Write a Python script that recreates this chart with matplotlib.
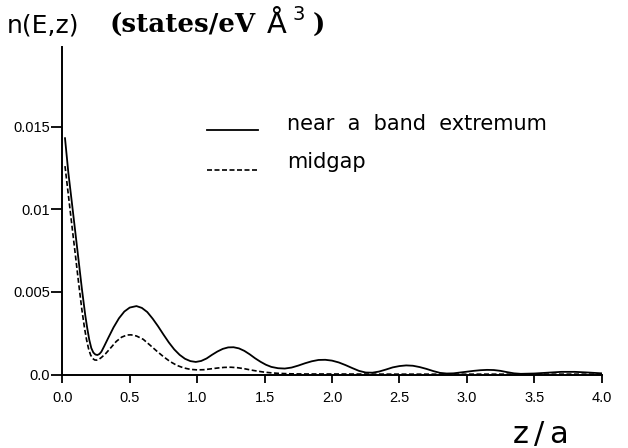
"""
Local density of states n(E,z) versus depth z/a,
near a band extremum and at midgap.
"""
import matplotlib
matplotlib.use('Agg')  # Use non-interactive backend
import matplotlib.pyplot as plt
from matplotlib.lines import Line2D

# Depth z/a and density of states near a band extremum (solid line)
z_band = [0.02, 0.045, 0.07, 0.095, 0.12, 0.145, 0.17, 0.185, 0.2, 0.215,
          0.23, 0.245, 0.26, 0.275, 0.29, 0.31, 0.34, 0.38, 0.42, 0.46,
          0.5, 0.55, 0.59, 0.63, 0.67, 0.71, 0.75, 0.79, 0.83, 0.87,
          0.91, 0.95, 0.99, 1.03, 1.07, 1.11, 1.15, 1.19, 1.23, 1.27,
          1.31, 1.35, 1.39, 1.43, 1.47, 1.51, 1.55, 1.6, 1.65, 1.7,
          1.75, 1.8, 1.85, 1.9, 1.95, 2.0, 2.05, 2.1, 2.15, 2.2,
          2.25, 2.3, 2.35, 2.4, 2.45, 2.5, 2.55, 2.6, 2.65, 2.7,
          2.75, 2.8, 2.85, 2.9, 2.95, 3.0, 3.05, 3.1, 3.15, 3.2,
          3.25, 3.3, 3.35, 3.4, 3.5, 3.6, 3.7, 3.8, 3.9, 4.0]
n_band = [0.0143, 0.0122, 0.01047, 0.00872, 0.00696, 0.0052, 0.0036, 0.0028, 0.0021, 0.0016,
          0.00133, 0.00121, 0.00118, 0.00124, 0.00138, 0.0017, 0.0022, 0.00285, 0.0034, 0.00381,
          0.00405, 0.00414, 0.00403, 0.00378, 0.00338, 0.00292, 0.00242, 0.00194, 0.00152, 0.00119,
          0.00095, 0.00081, 0.00076, 0.00082, 0.00097, 0.00119, 0.00139, 0.00155, 0.00164, 0.00165,
          0.00158, 0.00143, 0.00122, 0.00098, 0.00077, 0.00059, 0.00046, 0.00038, 0.00036, 0.00042,
          0.00054, 0.00068, 0.0008, 0.00088, 0.00089, 0.00084, 0.00073, 0.00057, 0.00039, 0.00022,
          0.00012, 0.00011, 0.00018, 0.0003, 0.00043, 0.00051, 0.00055, 0.00053, 0.00045, 0.00034,
          0.00021, 0.0001, 0.00006, 0.00007, 0.00012, 0.00017, 0.00022, 0.00026, 0.00028, 0.00027,
          0.00022, 0.00014, 0.00007, 0.00004, 0.00006, 0.00011, 0.00016, 0.00016, 0.00012, 0.00007]

# Midgap (dashed line)
z_mid = [0.02, 0.045, 0.07, 0.095, 0.12, 0.145, 0.165, 0.18, 0.195, 0.21,
         0.225, 0.24, 0.255, 0.27, 0.29, 0.32, 0.36, 0.4, 0.44, 0.48,
         0.51, 0.55, 0.6, 0.65, 0.7, 0.75, 0.8, 0.85, 0.9, 0.95,
         1.0, 1.05, 1.1, 1.15, 1.2, 1.25, 1.3, 1.35, 1.4, 1.45,
         1.5, 1.55, 1.6, 1.7, 1.8, 2.0, 2.5, 3.0, 3.5, 4.0]
n_mid = [0.01261, 0.01086, 0.0091, 0.00737, 0.00561, 0.00393, 0.0028, 0.0021, 0.00155, 0.00118,
         0.00097, 0.00088, 0.00087, 0.00091, 0.00103, 0.00125, 0.00162, 0.002, 0.00226, 0.00239,
         0.0024, 0.00233, 0.00213, 0.00178, 0.00142, 0.00108, 0.00078, 0.00055, 0.0004, 0.00031,
         0.00028, 0.00029, 0.00034, 0.00039, 0.00043, 0.00044, 0.00041, 0.00035, 0.00027, 0.0002,
         0.00014, 0.0001, 0.00007, 0.00004, 0.00003, 0.00003, 0.00002, 0.00002, 0.00002, 0.00002]

x_ticks = [0.0, 0.5, 1.0, 1.5, 2.0, 2.5, 3.0, 3.5, 4.0]
x_tick_labels = ['0.0', '0.5', '1.0', '1.5', '2.0', '2.5', '3.0', '3.5', '4.0']
y_ticks = [0.0, 0.005, 0.01, 0.015]
y_tick_labels = ['0.0', '0.005', '0.01', '0.015']

W, H = 628, 448
DASH = (0, (3, 1.5))


def fx(px):
    """Pixel column -> figure fraction."""
    return px / W


def fy(py):
    """Pixel row (from top) -> figure fraction."""
    return 1 - py / H


fig = plt.figure(figsize=(W / 100, H / 100), dpi=100)
ax = fig.add_axes([fx(62.3), fy(374.5), (601.7 - 62.3) / W, (374.5 - 47.3) / H])

ax.plot(z_band, n_band, color='black', linewidth=1.3)
ax.plot(z_mid, n_mid, color='black', linewidth=1.2, linestyle=DASH)

ax.set_xlim(0, 4.0)
ax.set_ylim(0, 0.0198)

# Only the left and bottom axes are drawn
for side in ['top', 'right']:
    ax.spines[side].set_visible(False)
for side in ['left', 'bottom']:
    ax.spines[side].set_linewidth(1.4)

ax.set_xticks(x_ticks)
ax.set_xticklabels(x_tick_labels, family='Liberation Sans', fontsize=10.5)
ax.set_yticks(y_ticks)
ax.set_yticklabels(y_tick_labels, family='Liberation Sans', fontsize=10.5)
ax.tick_params(axis='x', direction='out', length=6, width=1.3, pad=6)
ax.tick_params(axis='y', direction='out', length=8, width=1.3, pad=1)

# Key drawn by hand: the sample lines sit on the text baseline in the original
fig.add_artist(Line2D([fx(206.7), fx(258.3)], [fy(130.5), fy(130.5)],
                      color='black', linewidth=1.3))
fig.add_artist(Line2D([fx(206.7), fx(258.3)], [fy(170), fy(170)],
                      color='black', linewidth=1.2, linestyle=DASH))
fig.text(fx(287), fy(129.5), 'near  a  band  extremum', family='DejaVu Sans',
         fontsize=15, va='baseline')
fig.text(fx(287), fy(168.5), 'midgap', family='DejaVu Sans', fontsize=15, va='baseline')

# Axis labels placed as free text, like the original figure
fig.text(fx(7), fy(33), 'n(E,z)', family='DejaVu Sans', fontsize=18, va='baseline')
fig.text(fx(110), fy(33), '(states/eV', family='DejaVu Serif', fontweight='bold',
         fontsize=18.8, va='baseline')
fig.text(fx(267), fy(33), 'Å', family='DejaVu Sans', fontsize=21, va='baseline')
fig.text(fx(293), fy(20), '3', family='DejaVu Sans', fontsize=14, va='baseline')
fig.text(fx(313), fy(33), ')', family='DejaVu Serif', fontweight='bold',
         fontsize=18.8, va='baseline')

fig.text(fx(513), fy(443), 'z', family='DejaVu Sans', fontsize=22, va='baseline')
fig.text(fx(534), fy(443), '/', family='DejaVu Sans', fontsize=22, va='baseline')
fig.text(fx(549), fy(443), 'a', family='DejaVu Sans', fontsize=22, va='baseline')

plt.savefig('out.png', dpi=100)
plt.close()
